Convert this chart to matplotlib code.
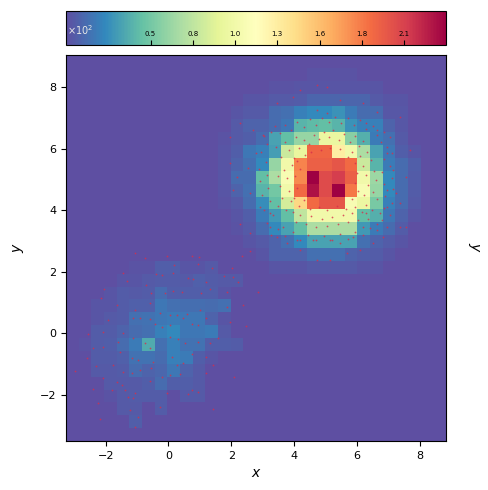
import matplotlib
matplotlib.use('Agg')
import matplotlib.pyplot as plt
import numpy as np

# bin counts, top row first
counts = [
    [0,0,0,0,0,0,0,0,0,0,0,0,0,0,0,0,0,0,0,0,0,0,0,0,0,0,0,0,0,0],
    [0,0,0,0,0,0,0,0,0,0,0,0,0,0,0,0,0,0,0,2,2,2,2,0,0,0,0,0,0,0],
    [0,0,0,0,0,0,0,0,0,0,0,0,0,0,0,0,2,2,3,3,3,3,3,3,3,0,0,0,0,0],
    [0,0,0,0,0,0,0,0,0,0,0,0,0,0,3,3,5,5,6,10,10,10,10,10,5,3,3,0,0,0],
    [0,0,0,0,0,0,0,0,0,0,0,0,0,3,5,5,12,14,21,24,24,28,19,12,12,4,4,0,0,0],
    [0,0,0,0,0,0,0,0,0,0,0,0,0,5,9,9,12,17,42,45,47,42,28,21,21,9,4,0,0,0],
    [0,0,0,0,0,0,0,0,0,0,0,0,2,5,7,12,35,47,64,64,100,100,59,40,19,14,5,0,0,0],
    [0,0,0,0,0,0,0,0,0,0,0,0,3,7,17,21,33,83,99,192,192,130,106,71,35,17,7,3,0,0],
    [0,0,0,0,0,0,0,0,0,0,0,0,3,9,14,24,64,106,180,195,195,200,190,83,42,19,12,7,0,0],
    [0,0,0,0,0,0,0,0,0,0,0,0,3,12,12,47,71,111,178,236,205,212,195,106,66,24,12,6,0,0],
    [0,0,0,0,0,0,0,0,0,0,0,0,3,9,14,42,52,106,190,229,205,236,185,111,64,24,12,6,0,0],
    [0,0,0,0,0,0,0,0,0,0,0,0,2,5,12,26,47,87,145,190,200,200,111,101,54,21,12,5,0,0],
    [0,0,0,0,0,0,0,0,0,0,0,0,0,3,7,19,31,47,80,106,106,106,106,47,40,17,9,3,0,0],
    [0,0,0,0,0,0,0,0,0,0,0,0,0,2,5,12,24,35,47,71,71,71,71,31,19,12,6,0,0,0],
    [0,0,0,0,0,0,0,0,0,0,0,0,0,0,3,5,9,14,24,35,35,35,35,14,9,6,3,0,0,0],
    [0,0,0,0,0,0,0,0,0,0,0,0,0,0,0,3,9,9,9,14,14,14,9,7,6,3,0,0,0,0],
    [0,0,0,0,0,2,2,7,7,3,3,5,0,0,0,0,3,3,3,5,5,5,5,3,3,0,0,0,0,0],
    [0,0,0,0,3,3,5,6,6,5,8,6,5,5,0,0,0,0,0,0,0,0,0,0,0,0,0,0,0,0],
    [0,0,0,3,6,5,6,12,7,7,7,7,3,0,0,0,0,0,0,0,0,0,0,0,0,0,0,0,0,0],
    [0,0,3,3,6,8,8,17,14,13,13,12,14,0,0,0,0,0,0,0,0,0,0,0,0,0,0,0,0,0],
    [0,0,3,5,6,14,15,17,19,17,17,9,3,0,0,0,0,0,0,0,0,0,0,0,0,0,0,0,0,0],
    [0,0,6,6,9,12,14,21,24,17,17,19,5,0,0,0,0,0,0,0,0,0,0,0,0,0,0,0,0,0],
    [0,2,6,7,12,19,38,14,21,15,15,7,7,6,0,0,0,0,0,0,0,0,0,0,0,0,0,0,0,0],
    [0,0,6,6,8,15,15,12,21,19,7,3,0,0,0,0,0,0,0,0,0,0,0,0,0,0,0,0,0,0],
    [0,0,5,5,6,12,9,11,17,9,5,0,0,0,0,0,0,0,0,0,0,0,0,0,0,0,0,0,0,0],
    [0,0,0,5,5,5,7,12,7,7,5,0,0,0,0,0,0,0,0,0,0,0,0,0,0,0,0,0,0,0],
    [0,0,0,2,5,6,6,6,0,5,5,0,0,0,0,0,0,0,0,0,0,0,0,0,0,0,0,0,0,0],
    [0,0,0,0,5,5,0,6,0,0,0,0,0,0,0,0,0,0,0,0,0,0,0,0,0,0,0,0,0,0],
    [0,0,0,0,0,7,0,0,0,0,0,0,0,0,0,0,0,0,0,0,0,0,0,0,0,0,0,0,0,0],
    [0,0,0,0,0,0,0,0,0,0,0,0,0,0,0,0,0,0,0,0,0,0,0,0,0,0,0,0,0,0],
]

# single points picked out of the low blob
low_x = [-1.07,-0.75,0.74,0.98,2.35,2.59,-0.06,0.18,0.95,1.39,2.03,-1.44,-1.33,-0.40,-0.19,0.13,0.63,0.79,1.19,1.76,
         2.06,2.22,-2.05,-2.16,-0.72,-0.54,-0.11,0.15,0.42,1.02,1.32,1.85,2.86,-1.65,-1.07,-0.59,-0.27,0.05,0.26,0.58,
         1.00,1.85,2.38,-1.91,-1.12,-0.91,-0.59,-0.43,-0.22,0.05,0.47,0.74,0.95,1.21,1.95,2.48,-2.55,-2.07,-1.60,-1.44,
         -1.12,-0.75,-0.59,0.05,0.31,0.52,0.95,1.32,1.58,-2.07,-2.39,-1.54,-1.17,-0.96,-0.48,0.10,0.26,0.47,0.74,1.21,
         1.42,-2.60,-2.29,-1.76,-1.44,-1.17,-0.91,-0.54,-0.22,0.05,0.37,1.21,2.08,-2.97,-2.07,-1.65,-1.38,-1.28,-1.07,-0.59,
         -0.06,0.63,0.95,-2.41,-2.23,-1.12,-0.27,-1.23,-0.96,-2.18,-1.07,1.42,0.74,-1.49,-1.81]
low_y = [2.62,2.44,2.51,2.49,2.51,2.68,2.51,2.22,2.25,2.11,2.11,1.97,1.71,1.93,1.90,1.97,1.79,1.77,1.66,1.87,
         1.84,1.68,1.43,1.14,1.57,1.30,1.30,1.39,1.36,1.30,1.43,1.36,1.36,0.92,0.76,0.98,0.65,0.60,0.60,0.63,
         0.76,0.87,0.92,0.44,0.49,0.49,0.46,0.31,0.20,0.27,0.49,0.31,0.27,0.49,0.38,0.24,-0.02,0.06,-0.27,0.00,
         -0.16,-0.30,-0.48,-0.13,-0.19,-0.30,-0.27,-0.32,-0.16,-0.43,-0.48,-0.59,-0.81,-0.86,-0.92,-0.75,-1.02,-0.97,-0.65,-0.75,
         -1.02,-0.78,-1.06,-1.02,-1.24,-1.29,-1.19,-1.13,-1.40,-1.35,-1.32,-1.29,-1.40,-1.21,-1.46,-1.57,-1.84,-2.05,-1.94,-1.53,
         -1.94,-1.96,-1.89,-1.81,-2.25,-2.10,-2.38,-2.48,-2.72,-2.79,-3.02,-2.46,-1.84,-1.67,-1.84]

# and around the high blob
high_x = [4.18,4.71,5.03,3.97,3.44,4.71,5.03,5.45,6.19,6.62,7.36,2.27,2.70,1.96,3.02,6.30,6.62,7.04,7.68,1.96,
          2.17,2.54,2.59,2.06,2.91,2.27,2.59,3.23,2.80,6.94,7.15,7.57,6.94,7.25,6.94,7.36,6.73,6.62,7.36,7.57,
          6.83,6.51,6.09,5.67,5.14,4.71,4.18,3.76,3.44,3.23,3.65,4.08,4.61,5.14,5.45,5.88,6.19,6.30]
high_y = [7.90,8.07,8.01,7.69,7.47,7.25,7.15,7.58,7.47,7.20,7.04,6.82,6.61,6.39,6.44,6.82,6.61,6.39,5.96,5.52,
          5.09,5.36,4.55,4.66,4.12,3.57,3.25,3.90,5.85,5.85,5.31,5.09,4.66,4.55,4.12,4.22,3.90,3.57,3.47,3.47,
          3.14,2.93,2.71,2.60,2.39,2.39,2.71,2.93,3.14,3.47,3.47,3.03,3.03,3.03,2.93,3.14,3.47,3.90]

# stipple over the ring of the high blob
ring_x = [3.42,3.58,3.71,3.85,3.93,3.66,3.48,3.77,3.55,3.82,3.61,3.90,3.48,3.75,4.00,4.15,4.32,4.05,4.48,4.62,
          4.80,4.95,5.12,5.25,5.42,5.60,5.78,5.92,6.05,6.20,5.85,6.10,6.32,6.45,6.20,6.55,6.28,6.60,6.35,6.50,
          6.22,6.62,6.30,6.48,6.15,6.35,6.02,5.85,5.72,5.55,5.40,5.20,5.05,4.88,4.70,4.55,4.38,4.20,4.05,3.95,
          4.15,3.98,4.10,4.02,4.20,4.10,4.35,4.55,4.85,5.15,5.45,5.70,5.95,6.00,5.92,6.02,5.85,5.95,5.65,5.35,
          5.05,4.80,4.50,4.30,2.95,3.12,3.05,3.25,3.38,3.55,3.72,3.90,4.10,4.30,4.50,4.70,4.90,5.10,5.30,5.50,
          5.70,5.90,6.10,6.30,6.50,6.65,6.85,6.75,6.95,7.10,6.85,7.05,6.80,7.10,6.85,7.15,6.90,7.12,6.85,7.05,
          6.80,6.95,6.65,6.40,6.20,5.95,5.70,5.45,5.20,4.95,4.70,4.45,4.20,3.95,3.70,3.50,3.25,3.15,3.32,3.05,
          3.22,2.98,3.18,2.90,3.15,2.88,3.10]
ring_y = [6.05,5.72,6.22,5.95,5.48,5.31,5.12,5.05,4.78,4.62,4.41,4.30,4.15,4.02,5.70,6.02,6.28,6.38,6.15,6.44,
          6.30,6.55,6.38,6.60,6.28,6.48,6.20,6.40,6.08,6.25,5.90,5.75,5.90,5.62,5.45,5.28,5.15,4.98,4.82,4.60,
          4.50,4.35,4.18,4.02,3.95,3.72,3.68,3.92,3.62,3.85,3.55,3.78,3.48,3.72,3.45,3.80,3.55,3.85,3.62,3.95,
          4.15,4.40,4.72,5.10,5.35,5.60,5.78,5.90,5.95,6.02,5.98,5.72,5.55,5.20,4.90,4.62,4.35,4.12,4.05,4.15,
          4.00,4.12,4.05,4.32,5.88,6.15,6.42,6.55,6.72,6.52,6.78,6.62,6.85,6.70,6.95,6.78,7.00,6.85,7.02,6.82,
          7.00,6.78,6.92,6.65,6.75,6.45,6.55,6.20,6.05,5.85,5.68,5.45,5.25,5.05,4.85,4.70,4.45,4.25,4.08,3.85,
          3.70,3.45,3.35,3.42,3.20,3.30,3.08,3.22,3.02,3.18,3.02,3.20,3.05,3.28,3.15,3.38,3.20,3.60,3.85,4.00,
          4.30,4.50,4.72,4.95,5.15,5.35,5.58]

cbar_ticks = [52.5, 78.75, 105.0, 131.25, 157.5, 183.75, 210.0]
cbar_labels = ['0.5', '0.8', '1.0', '1.3', '1.6', '1.8', '2.1']

XLIM = (-3.26, 8.83)
YLIM = (-3.49, 9.04)
W, H = 489, 490

fig = plt.figure(figsize=(W / 100, H / 100), dpi=100)
ax = fig.add_axes([66 / W, (H - 441) / H, 380 / W, 386 / H])
cax = fig.add_axes([66 / W, (H - 45) / H, 380 / W, 34 / H])

mesh = ax.imshow(np.array(counts), cmap='Spectral_r', vmin=0, vmax=236, aspect='auto',
                 extent=(XLIM[0], XLIM[1], YLIM[0], YLIM[1]), interpolation='nearest')
ax.scatter(low_x + high_x + ring_x, low_y + high_y + ring_y, s=1.6, c='#d62f4b', alpha=0.8, linewidths=0)

ax.set_xlim(XLIM)
ax.set_ylim(YLIM)
ax.set_xticks([-2, 0, 2, 4, 6, 8])
ax.set_yticks([-2, 0, 2, 4, 6, 8])
ax.tick_params(labelsize=8)
ax.set_xlabel('$x$', fontsize=10)
ax.set_ylabel('$y$', fontsize=10, labelpad=10)
fig.text(474 / W, (H - 247) / H, '$y$', fontsize=10, rotation=-90, ha='center', va='center')

cbar = fig.colorbar(mesh, cax=cax, orientation='horizontal')
cbar.set_ticks(cbar_ticks, labels=cbar_labels)
cbar.minorticks_off()
cax.tick_params(axis='x', direction='in', labelsize=5, length=3.5, width=0.8, pad=-10)
cax.text(0.002, 0.45, r'$\times10^{2}$', transform=cax.transAxes, color='#e8e8e8',
         fontsize=7, ha='left', va='center')

fig.savefig('out.png', dpi=100)
